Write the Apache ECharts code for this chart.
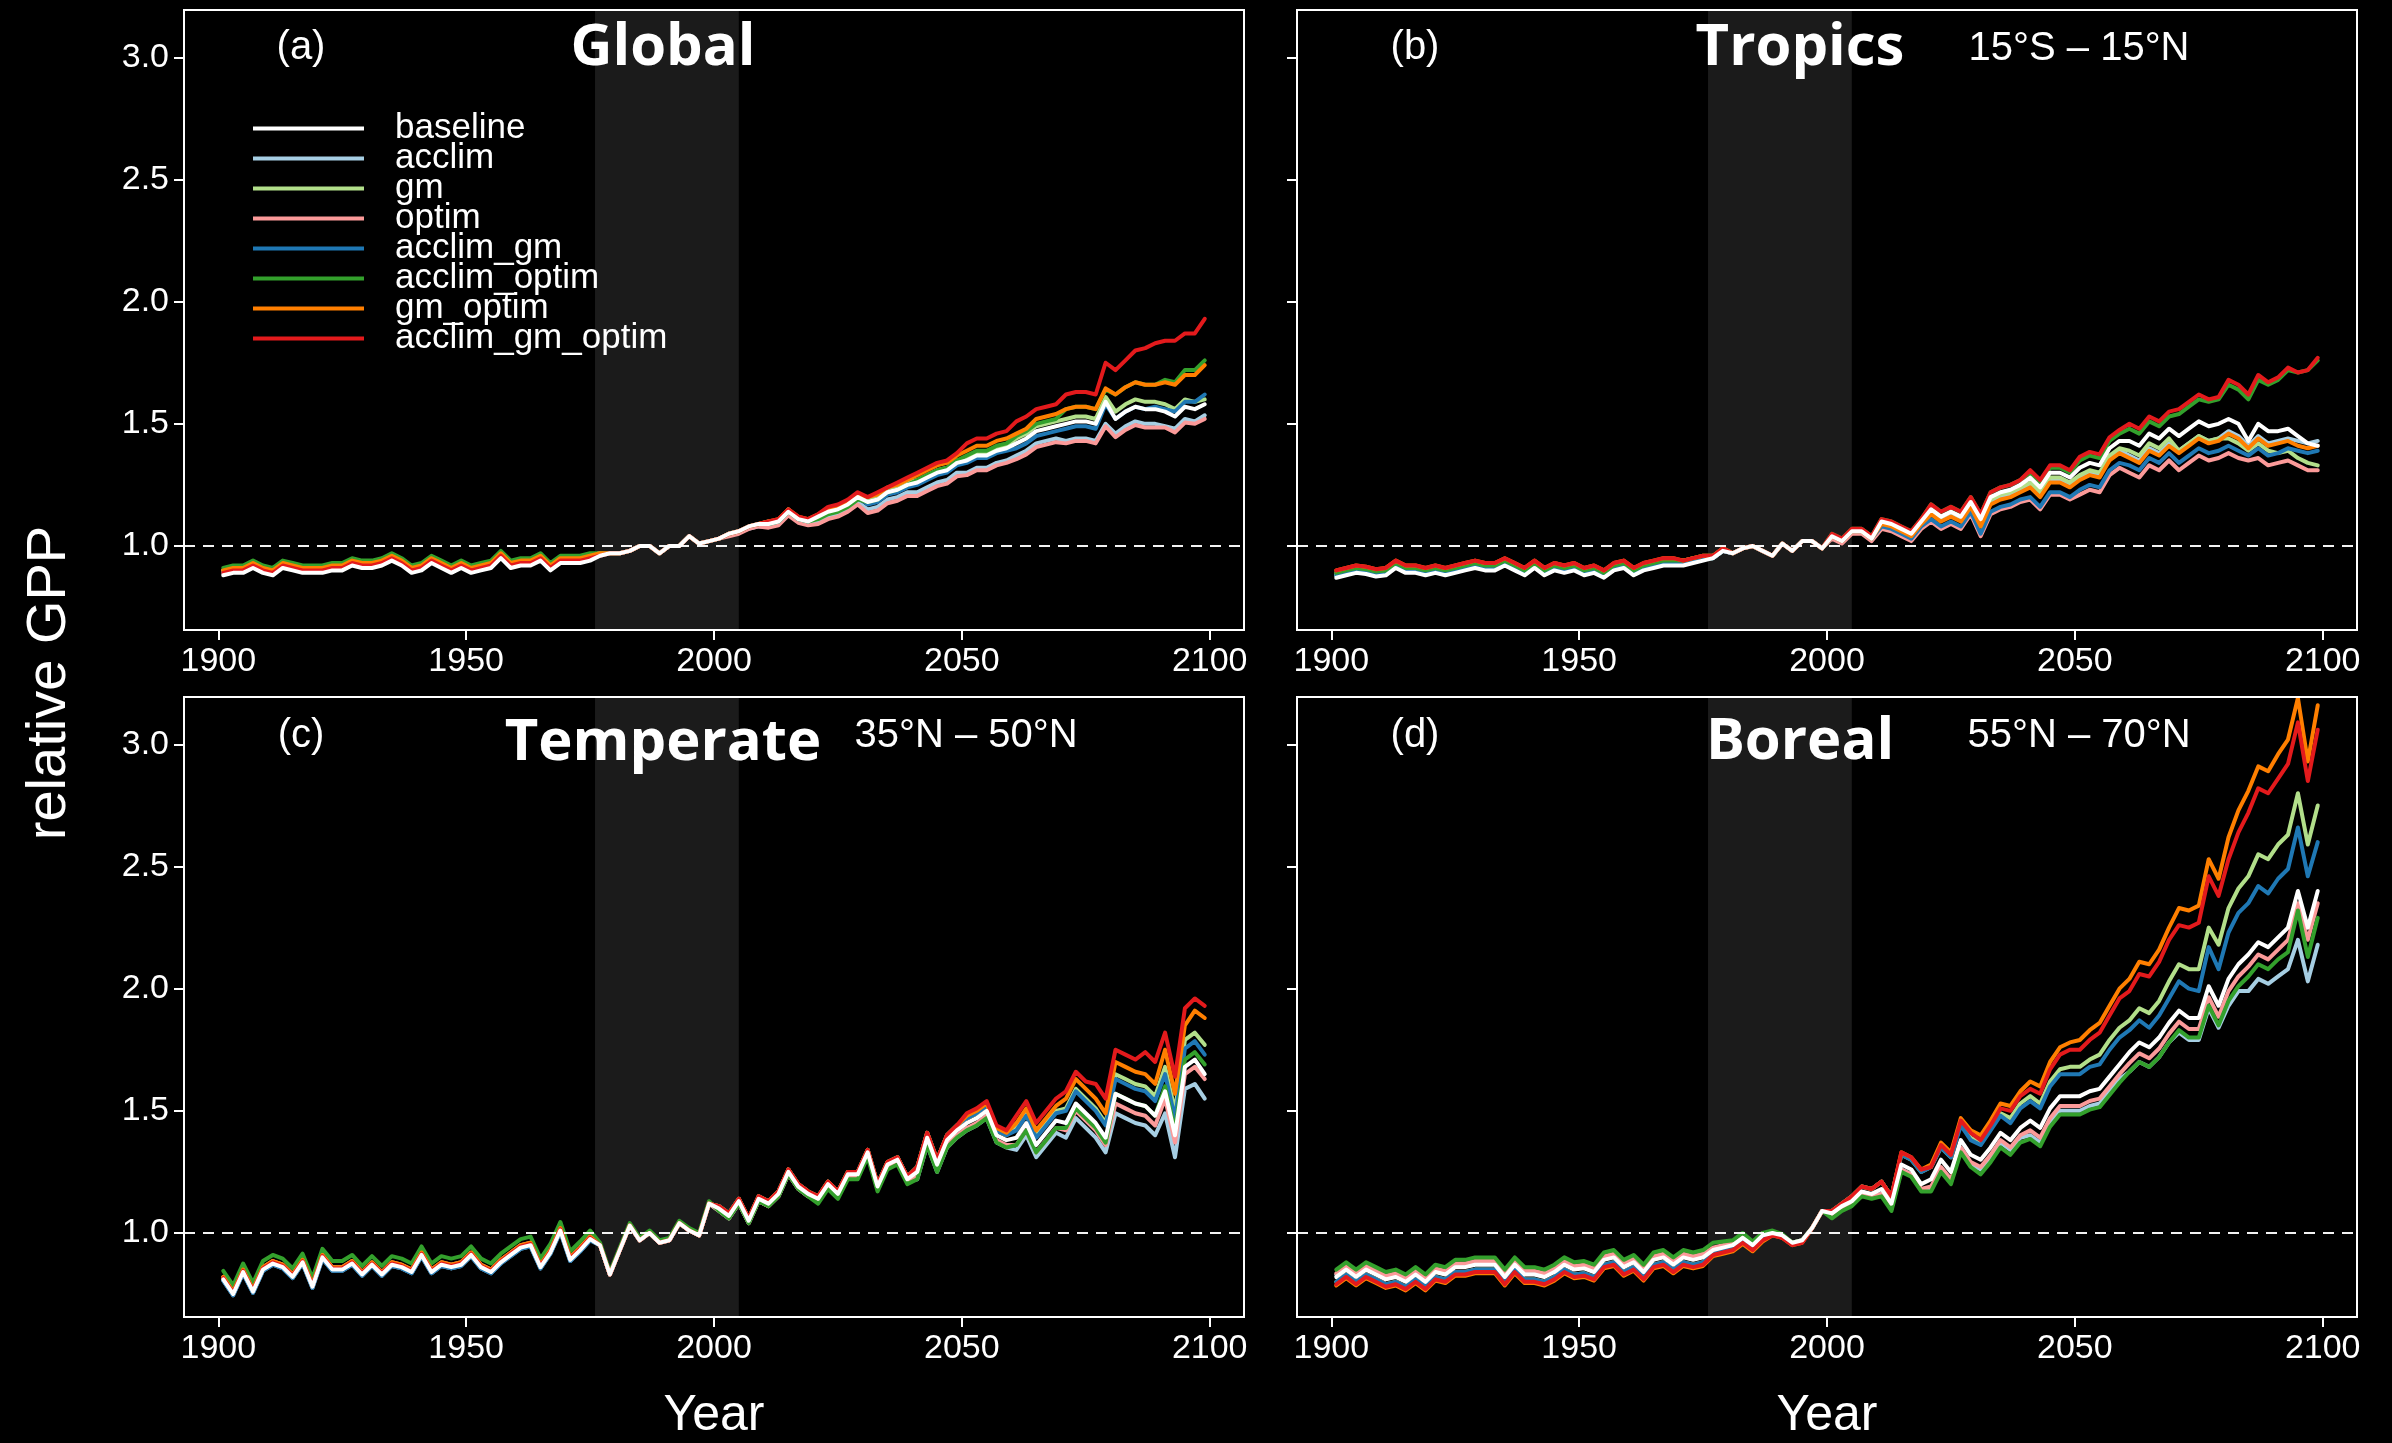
<!DOCTYPE html>
<html>
<head>
<meta charset="utf-8">
<title>relative GPP</title>
<script src="https://cdn.jsdelivr.net/npm/echarts@6.0.0/dist/echarts.min.js"></script>
<style>
  html, body { margin: 0; padding: 0; background: #000; }
  #chart { width: 2392px; height: 1443px; }
</style>
</head>
<body>
<div id="chart"></div>
<script>
// Simulation years (every second year)
const years = [
  1901,1903,1905,1907,1909,1911,1913,1915,1917,1919,
  1921,1923,1925,1927,1929,1931,1933,1935,1937,1939,
  1941,1943,1945,1947,1949,1951,1953,1955,1957,1959,
  1961,1963,1965,1967,1969,1971,1973,1975,1977,1979,
  1981,1983,1985,1987,1989,1991,1993,1995,1997,1999,
  2001,2003,2005,2007,2009,2011,2013,2015,2017,2019,
  2021,2023,2025,2027,2029,2031,2033,2035,2037,2039,
  2041,2043,2045,2047,2049,2051,2053,2055,2057,2059,
  2061,2063,2065,2067,2069,2071,2073,2075,2077,2079,
  2081,2083,2085,2087,2089,2091,2093,2095,2097,2099
];

// Reference period (shaded) and reference level (dashed)
const referencePeriod = [1976, 2005];
const referenceLevel = 1;

const xTicks = [1900, 1950, 2000, 2050, 2100];
const yTicks = [1.0, 1.5, 2.0, 2.5, 3.0];

// ---------------- Global ----------------
const global_baseline = [
  .88,.89,.89,.91,.89,.88,.91,.90,.89,.89,
  .89,.90,.90,.92,.91,.91,.92,.94,.92,.89,
  .90,.93,.91,.89,.91,.89,.90,.91,.95,.91,
  .92,.92,.94,.90,.93,.93,.93,.94,.96,.97,
  .97,.98,1.00,1.00,.97,1.00,1.00,1.04,1.01,1.02,
  1.03,1.05,1.06,1.08,1.09,1.09,1.10,1.14,1.11,1.10,
  1.12,1.14,1.15,1.17,1.20,1.18,1.19,1.22,1.23,1.25,
  1.26,1.28,1.30,1.31,1.34,1.35,1.37,1.37,1.39,1.40,
  1.42,1.44,1.47,1.48,1.49,1.50,1.51,1.51,1.50,1.59,
  1.52,1.55,1.57,1.56,1.56,1.55,1.53,1.57,1.56,1.58
];
const global_acclim = [
  .89,.90,.90,.92,.90,.89,.92,.91,.90,.90,
  .90,.91,.91,.93,.92,.92,.93,.95,.93,.90,
  .91,.94,.92,.90,.92,.90,.91,.92,.96,.92,
  .93,.93,.95,.91,.94,.94,.94,.95,.97,.97,
  .97,.98,1.00,1.00,.97,1.00,1.00,1.04,1.01,1.02,
  1.03,1.05,1.06,1.07,1.08,1.08,1.09,1.13,1.10,1.09,
  1.10,1.12,1.13,1.15,1.18,1.15,1.16,1.19,1.20,1.22,
  1.22,1.24,1.26,1.27,1.30,1.30,1.32,1.32,1.34,1.35,
  1.37,1.39,1.42,1.43,1.44,1.43,1.44,1.44,1.43,1.50,
  1.46,1.49,1.51,1.50,1.50,1.49,1.48,1.52,1.51,1.535
];
const global_gm = [
  .90,.91,.91,.93,.91,.90,.93,.92,.91,.91,
  .91,.92,.92,.94,.93,.93,.94,.96,.94,.91,
  .92,.95,.93,.91,.93,.91,.92,.93,.97,.93,
  .94,.94,.96,.92,.95,.95,.95,.96,.97,.97,
  .97,.98,1.00,1.00,.97,1.00,1.00,1.04,1.01,1.02,
  1.03,1.05,1.06,1.08,1.09,1.10,1.10,1.15,1.11,1.11,
  1.12,1.15,1.15,1.18,1.20,1.19,1.20,1.23,1.24,1.26,
  1.27,1.29,1.31,1.32,1.35,1.36,1.38,1.38,1.40,1.41,
  1.44,1.46,1.49,1.50,1.51,1.52,1.53,1.53,1.52,1.61,
  1.55,1.58,1.60,1.59,1.59,1.58,1.56,1.60,1.59,1.60
];
const global_optim = [
  .90,.91,.91,.93,.91,.90,.93,.92,.91,.91,
  .91,.92,.92,.94,.93,.93,.94,.96,.94,.91,
  .92,.95,.93,.91,.93,.91,.92,.93,.97,.93,
  .94,.94,.96,.92,.95,.95,.95,.96,.97,.97,
  .97,.98,1.00,1.00,.97,1.00,1.00,1.04,1.01,1.02,
  1.03,1.04,1.05,1.07,1.08,1.075,1.085,1.125,1.095,1.085,
  1.09,1.11,1.12,1.14,1.17,1.135,1.145,1.175,1.185,1.205,
  1.205,1.225,1.245,1.255,1.285,1.29,1.31,1.31,1.33,1.34,
  1.355,1.375,1.405,1.415,1.425,1.42,1.43,1.43,1.42,1.49,
  1.445,1.475,1.495,1.485,1.485,1.485,1.465,1.505,1.50,1.52
];
const global_acclim_gm = [
  .89,.90,.90,.92,.90,.89,.92,.91,.90,.90,
  .90,.91,.91,.93,.92,.92,.93,.95,.93,.90,
  .91,.94,.92,.90,.92,.90,.91,.92,.96,.92,
  .93,.93,.95,.91,.94,.94,.94,.95,.96,.97,
  .97,.98,1.00,1.00,.97,1.00,1.00,1.04,1.01,1.02,
  1.03,1.05,1.06,1.08,1.09,1.09,1.10,1.14,1.11,1.10,
  1.12,1.14,1.15,1.17,1.20,1.17,1.18,1.21,1.22,1.24,
  1.25,1.27,1.29,1.30,1.33,1.34,1.36,1.36,1.38,1.39,
  1.40,1.42,1.45,1.46,1.47,1.48,1.49,1.49,1.48,1.58,
  1.52,1.55,1.57,1.56,1.57,1.56,1.55,1.59,1.59,1.62
];
const global_acclim_optim = [
  .91,.92,.92,.94,.92,.91,.94,.93,.92,.92,
  .92,.93,.93,.95,.94,.94,.95,.97,.95,.92,
  .93,.96,.94,.92,.94,.92,.93,.94,.98,.94,
  .95,.95,.97,.93,.96,.96,.96,.97,.97,.97,
  .97,.98,1.00,1.00,.97,1.00,1.00,1.04,1.01,1.02,
  1.03,1.05,1.06,1.08,1.09,1.09,1.10,1.14,1.11,1.10,
  1.11,1.13,1.14,1.16,1.19,1.18,1.19,1.22,1.23,1.25,
  1.27,1.29,1.31,1.32,1.35,1.37,1.39,1.39,1.41,1.42,
  1.45,1.47,1.50,1.51,1.52,1.56,1.57,1.57,1.56,1.64,
  1.62,1.65,1.67,1.66,1.66,1.68,1.67,1.72,1.72,1.76
];
const global_gm_optim = [
  .90,.91,.91,.93,.91,.90,.93,.92,.91,.91,
  .91,.92,.92,.94,.93,.93,.94,.96,.94,.91,
  .92,.95,.93,.91,.93,.91,.92,.93,.97,.93,
  .94,.94,.96,.92,.95,.95,.95,.96,.97,.97,
  .97,.98,1.00,1.00,.97,1.00,1.00,1.04,1.01,1.02,
  1.03,1.05,1.06,1.08,1.09,1.10,1.11,1.15,1.12,1.11,
  1.13,1.15,1.16,1.18,1.21,1.20,1.21,1.24,1.25,1.27,
  1.29,1.31,1.33,1.34,1.37,1.39,1.41,1.41,1.43,1.44,
  1.46,1.48,1.52,1.53,1.54,1.56,1.57,1.57,1.56,1.645,
  1.62,1.65,1.67,1.66,1.66,1.67,1.66,1.70,1.70,1.74
];
const global_acclim_gm_optim = [
  .89,.90,.90,.92,.90,.89,.92,.91,.90,.90,
  .90,.91,.91,.93,.92,.92,.93,.95,.93,.90,
  .91,.94,.92,.90,.92,.90,.91,.92,.96,.92,
  .93,.93,.95,.91,.94,.94,.94,.95,.96,.97,
  .97,.98,1.00,1.00,.97,1.00,1.00,1.04,1.01,1.02,
  1.03,1.05,1.06,1.08,1.09,1.10,1.11,1.15,1.12,1.11,
  1.13,1.16,1.17,1.19,1.22,1.20,1.22,1.24,1.26,1.28,
  1.30,1.32,1.34,1.35,1.38,1.42,1.44,1.44,1.46,1.47,
  1.51,1.53,1.56,1.57,1.58,1.62,1.63,1.63,1.62,1.75,
  1.72,1.76,1.80,1.81,1.83,1.84,1.84,1.87,1.87,1.93
];

// ---------------- Tropics ----------------
const tropics_baseline = [
  .87,.88,.89,.885,.875,.88,.91,.89,.89,.88,
  .89,.88,.89,.90,.91,.90,.90,.92,.90,.88,
  .91,.88,.90,.89,.90,.88,.89,.87,.90,.91,
  .88,.90,.91,.92,.92,.92,.93,.94,.95,.98,
  .97,.99,1.00,.98,.96,1.01,.98,1.02,1.02,.99,
  1.04,1.02,1.06,1.06,1.03,1.10,1.09,1.07,1.05,1.10,
  1.15,1.12,1.14,1.12,1.18,1.11,1.20,1.22,1.23,1.25,
  1.28,1.24,1.30,1.30,1.28,1.32,1.34,1.33,1.40,1.43,
  1.43,1.41,1.46,1.44,1.48,1.45,1.48,1.51,1.49,1.50,
  1.52,1.50,1.43,1.50,1.47,1.47,1.48,1.45,1.42,1.41
];
const tropics_acclim = [
  .88,.89,.90,.895,.885,.89,.92,.90,.90,.89,
  .90,.89,.90,.91,.92,.91,.91,.93,.91,.89,
  .92,.89,.91,.90,.91,.89,.90,.88,.91,.92,
  .89,.91,.92,.93,.93,.93,.94,.95,.95,.98,
  .97,.99,1.00,.98,.96,1.01,.98,1.02,1.02,.99,
  1.04,1.02,1.06,1.06,1.03,1.10,1.09,1.07,1.05,1.10,
  1.14,1.11,1.13,1.11,1.17,1.09,1.18,1.20,1.21,1.23,
  1.25,1.21,1.27,1.27,1.25,1.28,1.30,1.29,1.36,1.39,
  1.37,1.35,1.40,1.38,1.42,1.39,1.42,1.45,1.43,1.44,
  1.47,1.45,1.41,1.45,1.42,1.43,1.44,1.43,1.42,1.43
];
const tropics_gm = [
  .88,.89,.90,.895,.885,.89,.92,.90,.90,.89,
  .90,.89,.90,.91,.92,.91,.91,.93,.91,.89,
  .92,.89,.91,.90,.91,.89,.90,.88,.91,.92,
  .89,.91,.92,.93,.93,.93,.94,.95,.95,.98,
  .97,.99,1.00,.98,.96,1.01,.98,1.02,1.02,.99,
  1.04,1.02,1.06,1.06,1.03,1.10,1.09,1.07,1.05,1.10,
  1.15,1.12,1.14,1.12,1.18,1.10,1.19,1.21,1.22,1.24,
  1.26,1.22,1.28,1.28,1.26,1.29,1.31,1.30,1.37,1.40,
  1.39,1.37,1.42,1.40,1.44,1.39,1.42,1.45,1.43,1.44,
  1.44,1.42,1.39,1.42,1.39,1.38,1.39,1.36,1.34,1.33
];
const tropics_optim = [
  .89,.90,.91,.905,.895,.90,.93,.91,.91,.90,
  .91,.90,.91,.92,.93,.92,.92,.94,.92,.90,
  .93,.90,.92,.91,.92,.90,.91,.89,.92,.93,
  .90,.92,.93,.94,.94,.94,.95,.95,.96,.98,
  .97,.99,1.00,.98,.96,1.01,.98,1.02,1.02,.99,
  1.03,1.01,1.05,1.05,1.02,1.07,1.06,1.04,1.02,1.07,
  1.10,1.07,1.09,1.07,1.13,1.04,1.13,1.15,1.16,1.18,
  1.19,1.15,1.21,1.21,1.19,1.21,1.23,1.22,1.29,1.32,
  1.30,1.28,1.33,1.31,1.35,1.31,1.34,1.37,1.35,1.36,
  1.38,1.36,1.35,1.36,1.33,1.34,1.35,1.33,1.31,1.31
];
const tropics_acclim_gm = [
  .88,.89,.90,.895,.885,.89,.92,.90,.90,.89,
  .90,.89,.90,.91,.92,.91,.91,.93,.91,.89,
  .92,.89,.91,.90,.91,.89,.90,.88,.91,.92,
  .89,.91,.92,.93,.93,.93,.94,.95,.95,.98,
  .97,.99,1.00,.98,.96,1.01,.98,1.02,1.02,.99,
  1.04,1.02,1.06,1.06,1.03,1.08,1.07,1.05,1.03,1.08,
  1.11,1.08,1.10,1.08,1.14,1.05,1.14,1.16,1.17,1.19,
  1.20,1.16,1.22,1.22,1.20,1.23,1.25,1.24,1.31,1.34,
  1.33,1.31,1.36,1.34,1.38,1.34,1.37,1.40,1.38,1.39,
  1.41,1.39,1.37,1.40,1.37,1.38,1.40,1.39,1.38,1.39
];
const tropics_acclim_optim = [
  .89,.90,.91,.905,.895,.90,.93,.91,.91,.90,
  .91,.90,.91,.92,.93,.92,.92,.94,.92,.90,
  .93,.90,.92,.91,.92,.90,.91,.89,.92,.93,
  .90,.92,.93,.94,.94,.94,.95,.96,.96,.99,
  .97,.99,1.00,.98,.96,1.01,.98,1.02,1.02,.99,
  1.05,1.03,1.07,1.07,1.04,1.11,1.10,1.08,1.06,1.11,
  1.17,1.14,1.16,1.14,1.20,1.13,1.22,1.24,1.25,1.27,
  1.30,1.26,1.32,1.32,1.30,1.35,1.37,1.36,1.43,1.46,
  1.48,1.46,1.51,1.49,1.53,1.54,1.57,1.60,1.59,1.60,
  1.66,1.64,1.60,1.68,1.66,1.68,1.72,1.71,1.72,1.76
];
const tropics_gm_optim = [
  .90,.91,.92,.915,.905,.91,.94,.92,.92,.91,
  .92,.91,.92,.93,.94,.93,.93,.95,.93,.91,
  .94,.91,.93,.92,.93,.91,.92,.90,.93,.94,
  .91,.93,.94,.95,.95,.94,.95,.96,.96,.99,
  .97,.99,1.00,.98,.96,1.01,.98,1.02,1.02,.99,
  1.04,1.02,1.06,1.06,1.03,1.09,1.08,1.06,1.04,1.09,
  1.13,1.10,1.12,1.10,1.16,1.08,1.17,1.19,1.20,1.22,
  1.24,1.20,1.26,1.26,1.24,1.27,1.29,1.28,1.35,1.38,
  1.36,1.34,1.39,1.37,1.41,1.38,1.41,1.44,1.42,1.43,
  1.46,1.44,1.40,1.44,1.41,1.42,1.43,1.41,1.40,1.41
];
const tropics_acclim_gm_optim = [
  .90,.91,.92,.915,.905,.91,.94,.92,.92,.91,
  .92,.91,.92,.93,.94,.93,.93,.95,.93,.91,
  .94,.91,.93,.92,.93,.91,.92,.90,.93,.94,
  .91,.93,.94,.95,.95,.94,.95,.96,.96,.99,
  .97,.99,1.00,.98,.96,1.01,.98,1.02,1.02,.99,
  1.05,1.03,1.07,1.07,1.04,1.11,1.10,1.08,1.06,1.11,
  1.17,1.14,1.16,1.14,1.20,1.13,1.22,1.24,1.25,1.27,
  1.31,1.27,1.33,1.33,1.31,1.365,1.385,1.375,1.445,1.475,
  1.50,1.48,1.53,1.51,1.55,1.56,1.59,1.62,1.60,1.61,
  1.68,1.66,1.62,1.70,1.67,1.69,1.73,1.71,1.72,1.77
];

// ---------------- Temperate ----------------
const temperate_baseline = [
  .81,.75,.84,.76,.85,.875,.86,.82,.88,.78,
  .90,.85,.85,.875,.83,.87,.83,.87,.86,.84,
  .91,.84,.87,.86,.87,.91,.86,.84,.88,.91,
  .94,.95,.86,.92,1.01,.89,.93,.975,.95,.83,
  .93,1.03,.97,1.00,.96,.97,1.04,1.01,.99,1.12,
  1.10,1.07,1.13,1.05,1.14,1.12,1.16,1.25,1.19,1.16,
  1.14,1.20,1.16,1.24,1.24,1.33,1.19,1.28,1.30,1.22,
  1.25,1.39,1.28,1.38,1.42,1.45,1.47,1.50,1.40,1.38,
  1.39,1.45,1.36,1.41,1.46,1.45,1.53,1.49,1.45,1.39,
  1.57,1.55,1.53,1.52,1.48,1.58,1.40,1.68,1.71,1.65
];
const temperate_acclim = [
  .805,.745,.835,.755,.845,.87,.855,.815,.875,.775,
  .895,.845,.845,.87,.825,.865,.825,.865,.855,.835,
  .905,.835,.865,.855,.865,.905,.855,.835,.875,.905,
  .935,.945,.855,.915,1.005,.885,.925,.97,.95,.83,
  .93,1.03,.97,1.00,.96,.97,1.04,1.01,.99,1.12,
  1.09,1.06,1.12,1.04,1.13,1.11,1.15,1.24,1.18,1.15,
  1.13,1.19,1.15,1.23,1.23,1.32,1.18,1.27,1.29,1.21,
  1.22,1.36,1.25,1.35,1.39,1.42,1.44,1.47,1.37,1.35,
  1.34,1.40,1.31,1.36,1.41,1.39,1.47,1.43,1.39,1.33,
  1.49,1.47,1.45,1.44,1.40,1.49,1.31,1.59,1.61,1.55
];
const temperate_gm = [
  .815,.755,.845,.765,.855,.88,.865,.825,.885,.785,
  .905,.855,.855,.88,.835,.875,.835,.875,.865,.845,
  .915,.845,.875,.865,.875,.915,.865,.845,.885,.915,
  .945,.955,.865,.925,1.015,.895,.935,.98,.95,.83,
  .93,1.03,.97,1.00,.96,.97,1.04,1.01,.99,1.12,
  1.11,1.08,1.14,1.06,1.15,1.13,1.17,1.26,1.20,1.17,
  1.15,1.21,1.17,1.25,1.25,1.34,1.20,1.29,1.31,1.23,
  1.27,1.41,1.30,1.40,1.44,1.47,1.49,1.52,1.42,1.40,
  1.43,1.49,1.40,1.45,1.50,1.51,1.59,1.55,1.51,1.45,
  1.65,1.63,1.61,1.60,1.56,1.68,1.50,1.79,1.82,1.77
];
const temperate_optim = [
  .82,.76,.85,.77,.86,.885,.87,.83,.89,.79,
  .91,.86,.86,.885,.84,.88,.84,.88,.87,.85,
  .92,.85,.88,.87,.88,.92,.87,.85,.89,.92,
  .95,.96,.87,.93,1.02,.90,.94,.985,.95,.83,
  .93,1.03,.97,1.00,.96,.97,1.04,1.01,.99,1.12,
  1.09,1.06,1.12,1.04,1.13,1.11,1.15,1.24,1.18,1.15,
  1.13,1.19,1.15,1.23,1.23,1.32,1.18,1.27,1.29,1.21,
  1.23,1.37,1.26,1.36,1.40,1.43,1.45,1.48,1.38,1.36,
  1.36,1.42,1.33,1.38,1.43,1.42,1.50,1.46,1.42,1.36,
  1.53,1.51,1.49,1.48,1.44,1.55,1.37,1.65,1.68,1.63
];
const temperate_acclim_gm = [
  .805,.745,.835,.755,.845,.87,.855,.815,.875,.775,
  .895,.845,.845,.87,.825,.865,.825,.865,.855,.835,
  .905,.835,.865,.855,.865,.905,.855,.835,.875,.905,
  .935,.945,.855,.915,1.005,.885,.925,.97,.95,.83,
  .93,1.03,.97,1.00,.96,.97,1.04,1.01,.99,1.12,
  1.11,1.08,1.14,1.06,1.15,1.13,1.17,1.26,1.20,1.17,
  1.15,1.21,1.17,1.25,1.25,1.34,1.20,1.29,1.31,1.23,
  1.27,1.41,1.30,1.40,1.44,1.47,1.49,1.52,1.42,1.40,
  1.42,1.48,1.39,1.44,1.49,1.50,1.58,1.54,1.50,1.44,
  1.63,1.61,1.59,1.58,1.54,1.65,1.47,1.755,1.785,1.73
];
const temperate_acclim_optim = [
  .845,.785,.875,.795,.885,.91,.895,.855,.915,.815,
  .935,.885,.885,.91,.865,.905,.865,.905,.895,.875,
  .945,.875,.905,.895,.905,.945,.895,.875,.915,.945,
  .975,.985,.895,.955,1.045,.925,.965,1.01,.96,.84,
  .94,1.04,.98,1.01,.97,.98,1.05,1.02,1.00,1.13,
  1.09,1.06,1.12,1.04,1.13,1.11,1.15,1.24,1.18,1.15,
  1.12,1.18,1.14,1.22,1.22,1.31,1.17,1.26,1.28,1.20,
  1.22,1.36,1.25,1.35,1.39,1.42,1.44,1.47,1.37,1.35,
  1.36,1.42,1.33,1.38,1.43,1.43,1.51,1.47,1.43,1.37,
  1.57,1.55,1.53,1.52,1.48,1.60,1.42,1.71,1.74,1.69
];
const temperate_gm_optim = [
  .82,.76,.85,.77,.86,.885,.87,.83,.89,.79,
  .91,.86,.86,.885,.84,.88,.84,.88,.87,.85,
  .92,.85,.88,.87,.88,.92,.87,.85,.89,.92,
  .95,.96,.87,.93,1.02,.90,.94,.985,.95,.83,
  .93,1.03,.97,1.00,.96,.97,1.04,1.01,.99,1.12,
  1.11,1.08,1.14,1.06,1.15,1.13,1.17,1.26,1.20,1.17,
  1.15,1.21,1.17,1.25,1.25,1.34,1.20,1.29,1.31,1.23,
  1.27,1.41,1.30,1.40,1.44,1.48,1.50,1.53,1.43,1.41,
  1.45,1.51,1.42,1.47,1.52,1.55,1.63,1.59,1.55,1.49,
  1.70,1.68,1.66,1.65,1.61,1.75,1.57,1.85,1.91,1.88
];
const temperate_acclim_gm_optim = [
  .815,.755,.845,.765,.855,.88,.865,.825,.885,.785,
  .905,.855,.855,.88,.835,.875,.835,.875,.865,.845,
  .915,.845,.875,.865,.875,.915,.865,.845,.885,.915,
  .945,.955,.865,.925,1.015,.895,.935,.98,.95,.83,
  .93,1.03,.97,1.00,.96,.97,1.04,1.01,.99,1.12,
  1.11,1.08,1.14,1.06,1.15,1.13,1.17,1.26,1.20,1.17,
  1.15,1.21,1.17,1.25,1.25,1.34,1.20,1.29,1.31,1.23,
  1.27,1.41,1.30,1.40,1.44,1.49,1.51,1.54,1.44,1.42,
  1.48,1.54,1.45,1.50,1.55,1.58,1.66,1.62,1.61,1.55,
  1.75,1.73,1.71,1.74,1.70,1.82,1.64,1.92,1.96,1.93
];

// ---------------- Boreal ----------------
const boreal_baseline = [
  .82,.85,.82,.85,.83,.81,.82,.80,.83,.80,
  .84,.83,.86,.86,.87,.87,.87,.82,.87,.83,
  .83,.82,.84,.87,.85,.855,.84,.89,.90,.86,
  .88,.84,.89,.90,.87,.90,.89,.90,.93,.94,
  .95,.98,.95,.99,1.00,.99,.96,.97,1.02,1.09,
  1.08,1.11,1.13,1.17,1.16,1.18,1.12,1.28,1.26,1.20,
  1.22,1.30,1.25,1.38,1.32,1.30,1.35,1.41,1.38,1.43,
  1.46,1.43,1.51,1.56,1.56,1.56,1.58,1.59,1.64,1.69,
  1.74,1.78,1.76,1.80,1.86,1.91,1.88,1.88,2.01,1.93,
  2.04,2.10,2.14,2.19,2.17,2.21,2.25,2.40,2.25,2.40
];
const boreal_acclim = [
  .83,.86,.83,.86,.84,.82,.83,.81,.84,.81,
  .85,.84,.87,.87,.88,.88,.88,.83,.88,.84,
  .84,.83,.85,.88,.86,.865,.85,.90,.91,.87,
  .89,.85,.90,.91,.88,.91,.90,.91,.935,.945,
  .955,.985,.955,.995,1.00,.99,.96,.97,1.02,1.09,
  1.07,1.10,1.12,1.16,1.15,1.16,1.10,1.26,1.24,1.18,
  1.18,1.26,1.21,1.34,1.28,1.26,1.31,1.37,1.34,1.39,
  1.40,1.37,1.45,1.50,1.50,1.50,1.52,1.53,1.58,1.63,
  1.66,1.70,1.68,1.72,1.78,1.82,1.79,1.79,1.92,1.84,
  1.93,1.99,1.99,2.04,2.02,2.05,2.08,2.20,2.03,2.18
];
const boreal_gm = [
  .80,.83,.80,.83,.81,.79,.80,.78,.81,.78,
  .82,.81,.84,.84,.85,.85,.85,.80,.85,.81,
  .81,.80,.82,.85,.83,.835,.82,.87,.88,.84,
  .86,.82,.87,.88,.85,.88,.87,.88,.915,.925,
  .935,.965,.935,.975,.995,.985,.955,.965,1.02,1.09,
  1.09,1.12,1.15,1.19,1.18,1.21,1.15,1.32,1.30,1.25,
  1.27,1.35,1.31,1.45,1.39,1.37,1.43,1.49,1.47,1.53,
  1.56,1.53,1.62,1.67,1.68,1.68,1.71,1.73,1.79,1.84,
  1.87,1.92,1.90,1.95,2.03,2.10,2.08,2.08,2.25,2.18,
  2.33,2.41,2.46,2.55,2.53,2.59,2.63,2.80,2.59,2.75
];
const boreal_optim = [
  .835,.865,.835,.865,.845,.825,.835,.815,.845,.815,
  .855,.845,.875,.875,.885,.885,.885,.835,.885,.845,
  .845,.835,.855,.885,.865,.87,.855,.905,.915,.875,
  .895,.855,.905,.915,.885,.915,.905,.915,.94,.95,
  .96,.99,.96,1.00,1.00,.99,.96,.97,1.02,1.09,
  1.07,1.10,1.12,1.16,1.15,1.16,1.10,1.26,1.24,1.18,
  1.19,1.27,1.22,1.35,1.29,1.27,1.32,1.38,1.35,1.40,
  1.42,1.39,1.47,1.52,1.52,1.52,1.54,1.55,1.60,1.65,
  1.695,1.735,1.715,1.755,1.815,1.865,1.835,1.835,1.965,1.885,
  1.99,2.05,2.09,2.14,2.12,2.16,2.20,2.35,2.20,2.35
];
const boreal_acclim_gm = [
  .80,.83,.80,.83,.81,.79,.80,.78,.81,.78,
  .82,.81,.84,.84,.85,.85,.85,.80,.85,.81,
  .81,.80,.82,.85,.83,.835,.82,.87,.88,.84,
  .86,.82,.87,.88,.85,.88,.87,.88,.915,.925,
  .935,.965,.935,.975,.995,.985,.955,.965,1.02,1.09,
  1.09,1.12,1.15,1.19,1.18,1.21,1.15,1.32,1.30,1.25,
  1.27,1.35,1.31,1.44,1.38,1.36,1.42,1.48,1.45,1.51,
  1.54,1.51,1.60,1.65,1.65,1.65,1.68,1.69,1.75,1.80,
  1.83,1.87,1.84,1.89,1.96,2.03,2.00,1.99,2.17,2.08,
  2.23,2.31,2.35,2.42,2.39,2.45,2.49,2.66,2.46,2.60
];
const boreal_acclim_optim = [
  .85,.88,.85,.88,.86,.84,.85,.83,.86,.83,
  .87,.86,.89,.89,.90,.90,.90,.85,.90,.86,
  .86,.85,.87,.90,.88,.885,.87,.92,.93,.89,
  .91,.87,.92,.93,.90,.93,.92,.93,.96,.965,
  .97,1.00,.965,1.00,1.01,.995,.96,.97,1.02,1.09,
  1.06,1.09,1.11,1.15,1.14,1.15,1.09,1.25,1.23,1.17,
  1.17,1.25,1.20,1.33,1.27,1.24,1.29,1.35,1.32,1.37,
  1.385,1.355,1.435,1.485,1.485,1.485,1.505,1.515,1.565,1.615,
  1.66,1.70,1.68,1.72,1.78,1.83,1.80,1.80,1.93,1.85,
  1.95,2.01,2.05,2.10,2.08,2.12,2.15,2.32,2.13,2.29
];
const boreal_gm_optim = [
  .785,.815,.785,.815,.795,.775,.785,.765,.795,.765,
  .805,.795,.825,.825,.835,.835,.835,.785,.835,.795,
  .795,.785,.805,.835,.815,.82,.805,.855,.865,.825,
  .845,.805,.855,.865,.835,.865,.855,.865,.905,.915,
  .925,.955,.925,.965,.99,.98,.95,.96,1.02,1.09,
  1.09,1.12,1.15,1.19,1.18,1.21,1.15,1.33,1.31,1.26,
  1.28,1.37,1.33,1.47,1.42,1.40,1.46,1.53,1.52,1.58,
  1.62,1.60,1.70,1.76,1.78,1.79,1.83,1.86,1.93,2.00,
  2.04,2.11,2.10,2.16,2.25,2.33,2.32,2.34,2.53,2.45,
  2.62,2.73,2.81,2.91,2.89,2.96,3.02,3.19,2.93,3.16
];
const boreal_acclim_gm_optim = [
  .79,.82,.79,.82,.80,.78,.79,.77,.80,.77,
  .81,.80,.83,.83,.84,.84,.84,.79,.84,.80,
  .80,.79,.81,.84,.82,.825,.81,.86,.87,.83,
  .85,.81,.86,.87,.84,.87,.86,.87,.91,.92,
  .93,.96,.93,.97,.99,.98,.95,.96,1.02,1.09,
  1.09,1.12,1.15,1.19,1.18,1.21,1.15,1.33,1.31,1.26,
  1.27,1.36,1.32,1.46,1.41,1.38,1.44,1.51,1.50,1.56,
  1.59,1.57,1.67,1.73,1.75,1.75,1.79,1.82,1.89,1.96,
  1.99,2.06,2.05,2.11,2.20,2.26,2.25,2.27,2.46,2.38,
  2.53,2.64,2.72,2.82,2.80,2.86,2.92,3.09,2.85,3.06
];

// ---------------- Scenarios and styling ----------------
const scenarios = ['baseline','acclim','gm','optim','acclim_gm','acclim_optim','gm_optim','acclim_gm_optim'];
const scenarioColors = {
  baseline: '#ffffff',
  acclim: '#a6cee3',
  gm: '#b2df8a',
  optim: '#fb9a99',
  acclim_gm: '#1f78b4',
  acclim_optim: '#33a02c',
  gm_optim: '#ff7f00',
  acclim_gm_optim: '#e31a1c'
};
// baseline is drawn last so it sits on top
const drawOrder = ['acclim','gm','optim','acclim_gm','acclim_optim','gm_optim','acclim_gm_optim','baseline'];

const regions = [
  { tag: '(a)', title: 'Global', band: '', values: {
      baseline: global_baseline, acclim: global_acclim, gm: global_gm, optim: global_optim,
      acclim_gm: global_acclim_gm, acclim_optim: global_acclim_optim,
      gm_optim: global_gm_optim, acclim_gm_optim: global_acclim_gm_optim } },
  { tag: '(b)', title: 'Tropics', band: '15°S – 15°N', values: {
      baseline: tropics_baseline, acclim: tropics_acclim, gm: tropics_gm, optim: tropics_optim,
      acclim_gm: tropics_acclim_gm, acclim_optim: tropics_acclim_optim,
      gm_optim: tropics_gm_optim, acclim_gm_optim: tropics_acclim_gm_optim } },
  { tag: '(c)', title: 'Temperate', band: '35°N – 50°N', values: {
      baseline: temperate_baseline, acclim: temperate_acclim, gm: temperate_gm, optim: temperate_optim,
      acclim_gm: temperate_acclim_gm, acclim_optim: temperate_acclim_optim,
      gm_optim: temperate_gm_optim, acclim_gm_optim: temperate_acclim_gm_optim } },
  { tag: '(d)', title: 'Boreal', band: '55°N – 70°N', values: {
      baseline: boreal_baseline, acclim: boreal_acclim, gm: boreal_gm, optim: boreal_optim,
      acclim_gm: boreal_acclim_gm, acclim_optim: boreal_acclim_optim,
      gm_optim: boreal_gm_optim, acclim_gm_optim: boreal_acclim_gm_optim } }
];

// ---------------- Layout ----------------
const FONT = '"Liberation Sans", Arial, Helvetica, sans-serif';
const TITLE_FONT = '"Open Sans", "DejaVu Sans", sans-serif';
const panelLayout = [
  { grid: { left: 184,  top: 10,  width: 1060, height: 620 }, tag: [301, 48],   title: [663, 48],   band: [0, 0] },
  { grid: { left: 1297, top: 10,  width: 1060, height: 620 }, tag: [1415, 48],  title: [1800, 48],  band: [2079, 49] },
  { grid: { left: 184,  top: 697, width: 1060, height: 620 }, tag: [301, 736],  title: [663, 743],  band: [966, 736] },
  { grid: { left: 1297, top: 697, width: 1060, height: 620 }, tag: [1415, 736], title: [1800, 742], band: [2079, 736] }
];

const grids = [], xAxes = [], yAxes = [], series = [], graphics = [];

function textEl(x, y, text, size, family, weight, rotation) {
  return {
    type: 'text', x: x, y: y, z: 100, silent: true, rotation: rotation || 0,
    style: { text: text, fill: '#ffffff', fontSize: size, fontFamily: family, fontWeight: weight || 'normal',
             textAlign: 'center', textVerticalAlign: 'middle', align: 'center', verticalAlign: 'middle' }
  };
}

regions.forEach((region, p) => {
  const lay = panelLayout[p];
  grids.push(Object.assign({ show: true, borderColor: '#ffffff', borderWidth: 2, backgroundColor: 'transparent', z: 5 }, lay.grid));

  xAxes.push({
    type: 'value', gridIndex: p, min: 1893.08, max: 2106.92,
    axisLine: { show: false },
    splitLine: { show: false },
    axisTick: { show: true, length: 10, customValues: xTicks, lineStyle: { color: '#ffffff', width: 2 } },
    axisLabel: { show: true, customValues: xTicks, margin: 15, color: '#ffffff', fontSize: 34, fontFamily: FONT,
                 formatter: v => String(Math.round(v)) },
    name: p >= 2 ? 'Year' : '',
    nameLocation: 'middle', nameGap: 74,
    nameTextStyle: { color: '#ffffff', fontSize: 50, fontFamily: FONT }
  });

  yAxes.push({
    type: 'value', gridIndex: p, min: 0.656, max: 3.194,
    axisLine: { show: false },
    splitLine: { show: false },
    axisTick: { show: true, length: 10, customValues: yTicks, lineStyle: { color: '#ffffff', width: 2 } },
    axisLabel: {
      show: p % 2 === 0, customValues: yTicks, margin: 15, color: '#ffffff', fontSize: 34, fontFamily: FONT,
      formatter: v => Number(v).toFixed(1)
    }
  });

  // shaded reference period and reference level
  series.push({
    type: 'line', name: 'reference', xAxisIndex: p, yAxisIndex: p, data: [], silent: true, z: 1,
    markArea: { silent: true, itemStyle: { color: '#1b1b1b' }, data: [[{ xAxis: referencePeriod[0] }, { xAxis: referencePeriod[1] }]] },
    markLine: { silent: true, symbol: 'none', label: { show: false }, animation: false,
      lineStyle: { color: '#ffffff', width: 2.2, type: [11, 8], opacity: 0.95 },
      data: [{ yAxis: referenceLevel }] }
  });

  drawOrder.forEach(name => {
    const vals = region.values[name];
    series.push({
      type: 'line', name: name, xAxisIndex: p, yAxisIndex: p,
      data: years.map((y, i) => [y, vals[i]]),
      showSymbol: false, symbol: 'none', smooth: false,
      color: scenarioColors[name],
      lineStyle: { color: scenarioColors[name], width: 4, cap: 'round', join: 'round' },
      z: name === 'baseline' ? 4 : 3,
      emphasis: { disabled: true }
    });
  });

  graphics.push(textEl(lay.tag[0], lay.tag[1], region.tag, 40, FONT));
  graphics.push(textEl(lay.title[0], lay.title[1], region.title, 58, TITLE_FONT, 'bold'));
  if (region.band) graphics.push(textEl(lay.band[0], lay.band[1], region.band, 40, FONT));
});

graphics.push(textEl(50, 683, 'relative GPP', 56, FONT, 'normal', Math.PI / 2));

const chart = echarts.init(document.getElementById('chart'), null, { renderer: 'canvas' });
chart.setOption({
  backgroundColor: '#000000',
  animation: false,
  grid: grids,
  xAxis: xAxes,
  yAxis: yAxes,
  legend: {
    data: scenarios,
    orient: 'vertical',
    left: 248, top: 106,
    itemWidth: 111, itemHeight: 4, itemGap: -5,
    icon: 'rect',
    selectedMode: false,
    z: 100,
    textStyle: { color: '#ffffff', fontSize: 35, fontFamily: FONT, lineHeight: 30, padding: [0, 0, 0, 26] }
  },
  graphic: { elements: graphics },
  series: series
});
</script>
</body>
</html>
